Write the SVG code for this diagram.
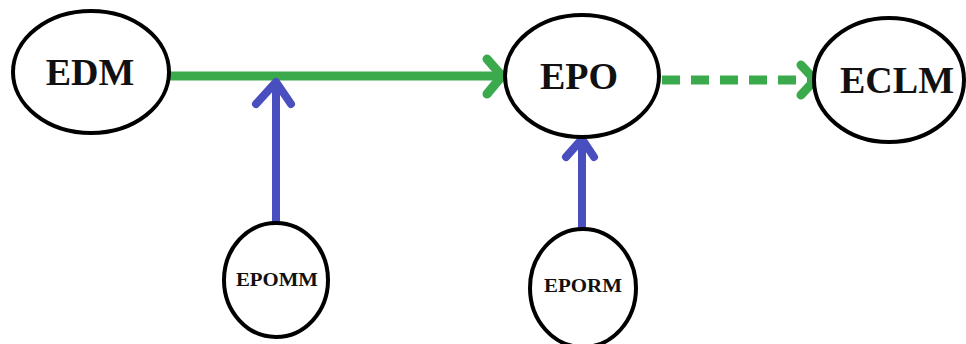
<svg xmlns="http://www.w3.org/2000/svg" width="966" height="344" viewBox="0 0 966 344">
<style>
.node ellipse{fill:#fff;stroke:#000;stroke-width:4}
.lbl{font-family:"Liberation Serif","Times New Roman",serif;font-weight:bold;fill:#111;text-anchor:middle}
.big{font-size:38px}
.small{font-size:19px}
.g{stroke:#3aaa4c;stroke-width:9;fill:none;stroke-linecap:round;stroke-linejoin:round}
.b{stroke:#4a4fc0;stroke-width:8;fill:none;stroke-linecap:round;stroke-linejoin:round}
</style>
<rect width="966" height="344" fill="#fff"/>
<g id="connectors">
<line class="g" x1="170" y1="76" x2="498" y2="76" style="stroke-linecap:butt"/>
<polyline class="g" points="487,59 502,76 487,94"/>
<line class="g" x1="662" y1="80" x2="810" y2="80" stroke-dasharray="18 11" style="stroke-linecap:butt"/>
<polyline class="g" points="801,65 815,80 801,95"/>
<line class="b" x1="276" y1="222" x2="276" y2="84" style="stroke-linecap:butt"/>
<polyline class="b" points="256,104 276,82 291,104"/>
<line class="b" x1="582" y1="228" x2="582" y2="140" style="stroke-linecap:butt"/>
<polyline class="b" points="566,157 582,139 594,157"/>
</g>
<g id="EDM" class="node"><ellipse cx="91" cy="72" rx="78" ry="61"/><text class="lbl big" x="90" y="85">EDM</text></g>
<g id="EPO" class="node"><ellipse cx="582" cy="76" rx="77" ry="61"/><text class="lbl big" x="579" y="89">EPO</text></g>
<g id="ECLM" class="node"><ellipse cx="889" cy="80" rx="75" ry="62"/><text class="lbl big" x="897" y="93">ECLM</text></g>
<g id="EPOMM" class="node"><ellipse cx="276" cy="280" rx="52" ry="57"/><text class="lbl small" x="277" y="286" textLength="82" lengthAdjust="spacingAndGlyphs">EPOMM</text></g>
<g id="EPORM" class="node"><ellipse cx="583" cy="288" rx="53" ry="59"/><text class="lbl small" x="583" y="292" textLength="78" lengthAdjust="spacingAndGlyphs">EPORM</text></g>
</svg>
